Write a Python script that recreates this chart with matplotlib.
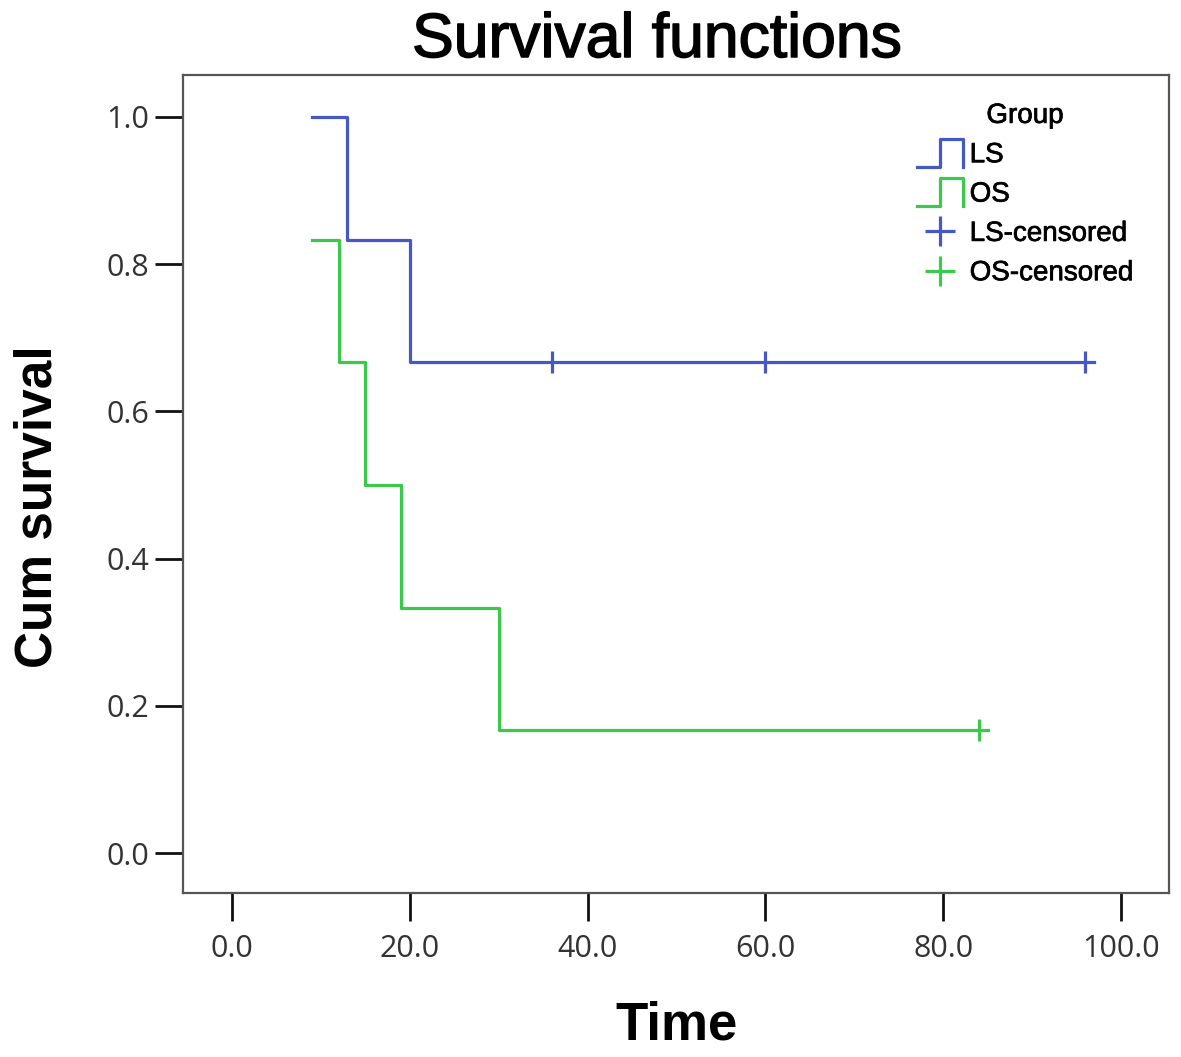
import matplotlib
matplotlib.use("Agg")
import matplotlib.pyplot as plt
import matplotlib.patheffects as pe
from matplotlib.lines import Line2D
from matplotlib.legend_handler import HandlerBase

# Kaplan-Meier step data
ls_time = [9, 13, 20, 97]
ls_surv = [1.0, 0.833, 0.667, 0.667]
ls_cens_time = [36, 60, 96]
ls_cens_surv = [0.667, 0.667, 0.667]

os_time = [9, 12, 15, 19, 30, 85]
os_surv = [0.833, 0.667, 0.5, 0.333, 0.167, 0.167]
os_cens_time = [84]
os_cens_surv = [0.167]

x_ticks = [0, 20, 40, 60, 80, 100]
y_ticks = [0.0, 0.2, 0.4, 0.6, 0.8, 1.0]

blue = "#4658c4"
green = "#3cc84a"


class StepHandler(HandlerBase):
    # legend icon drawn as a little survival step
    def create_artists(self, legend, orig_handle, xdescent, ydescent,
                       width, height, fontsize, trans):
        x0 = -xdescent
        y0 = -ydescent - 0.22 * height
        h = 1.44 * height
        xs = [x0, x0 + 0.5 * width, x0 + 0.5 * width, x0 + width, x0 + width]
        ys = [y0, y0, y0 + h, y0 + h, y0]
        line = Line2D(xs, ys, color=orig_handle.get_color(),
                      linewidth=orig_handle.get_linewidth(), transform=trans)
        return [line]


fig = plt.figure(figsize=(11.81, 10.57), dpi=100)
fig.patch.set_facecolor("white")
ax = fig.add_axes([183 / 1181, 1 - 893 / 1057, (1169 - 183) / 1181, (893 - 75) / 1057])

ax.plot(ls_time, ls_surv, drawstyle="steps-post", color=blue, linewidth=2.3)
ax.plot(os_time, os_surv, drawstyle="steps-post", color=green, linewidth=2.3)
ax.plot(ls_cens_time, ls_cens_surv, linestyle="none", marker="|",
        markersize=16, markeredgewidth=2.3, color=blue)
ax.plot(os_cens_time, os_cens_surv, linestyle="none", marker="|",
        markersize=16, markeredgewidth=2.3, color=green)

ax.set_xlim(-5.5, 105.4)
ax.set_ylim(-0.054, 1.057)
ax.set_xticks(x_ticks)
ax.set_xticklabels([f"{v:.1f}" for v in x_ticks])
ax.set_yticks(y_ticks)
ax.set_yticklabels([f"{v:.1f}" for v in y_ticks])

for spine in ax.spines.values():
    spine.set_color("#555555")
    spine.set_linewidth(1.6)

ax.tick_params(direction="out", length=20.5, width=2, color="#111111",
               labelsize=22, labelcolor="#333333")
ax.tick_params(axis="x", pad=9)
ax.tick_params(axis="y", pad=4)
for lab in ax.get_xticklabels() + ax.get_yticklabels():
    lab.set_family("Open Sans")

fig.text(657 / 1181, 1 - 57 / 1057, "Survival functions", ha="center", va="baseline",
         fontsize=45, family="Liberation Sans", color="black",
         path_effects=[pe.withStroke(linewidth=1.1, foreground="black")])
fig.text(38 / 1181, 1 - 507 / 1057, "Cum survival", ha="center", va="center",
         rotation=90, fontsize=37, fontweight="bold", family="Liberation Sans")
fig.text(676 / 1181, 1 - 1025 / 1057, "Time", ha="center", va="center",
         fontsize=38, fontweight="bold", family="Liberation Sans")

h_ls = Line2D([], [], color=blue, linewidth=2.3)
h_os = Line2D([], [], color=green, linewidth=2.3)
h_lsc = Line2D([], [], color=blue, linestyle="none", marker="+",
               markersize=22, markeredgewidth=2.3)
h_osc = Line2D([], [], color=green, linestyle="none", marker="+",
               markersize=22, markeredgewidth=2.3)

leg = ax.legend([h_ls, h_os, h_lsc, h_osc],
                ["LS", "OS", "LS-censored", "OS-censored"],
                handler_map={h_ls: StepHandler(), h_os: StepHandler()},
                title="Group", loc="upper left",
                bbox_to_anchor=(903 / 1181, 1 - 89 / 1057),
                bbox_transform=fig.transFigure,
                frameon=False, fontsize=20, title_fontsize=20,
                handlelength=1.65, handletextpad=0.25, labelspacing=0.48,
                borderpad=0.0)
bold_fx = [pe.withStroke(linewidth=0.5, foreground="black")]
for t in leg.get_texts():
    t.set_family("Liberation Sans")
    t.set_path_effects(bold_fx)
leg.get_title().set_family("Liberation Sans")
leg.get_title().set_path_effects(bold_fx)

plt.savefig("out.png", dpi=100, facecolor="white")
